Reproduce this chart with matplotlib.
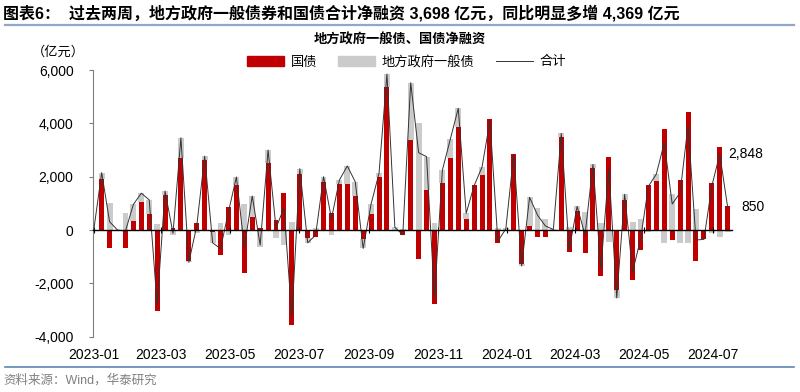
import numpy as np
import pandas as pd
import matplotlib
matplotlib.use('Agg')
import matplotlib.pyplot as plt
import matplotlib.dates as mdates
from matplotlib.lines import Line2D
from matplotlib.ticker import FuncFormatter

plt.rcParams['font.family'] = ['Liberation Sans', 'Noto Sans CJK SC']

# 周度数据（亿元），2023-01-01 起每周一个点
weeks = pd.date_range('2023-01-01', periods=81, freq='7D')

guozhai = [0, 1900, -690, 0, -690, 340, 1060, 600, -3025, 1310,
           60, 2710, -1150, 275, 2620, -60, -950, 875, 1690, -1625,
           500, 60, 2500, 375, 1375, -3560, 2100, -310, -250, 1810,
           625, 1725, 1725, 1275, -340, 600, 1975, 5375, 0, -200,
           3375, -1100, 1500, -2790, 1750, 2690, 3875, 400, 1700, 2060,
           4150, -475, -40, 2840, -1290, 150, -250, -250, 0, 3475,
           -840, 725, -875, 2310, -1725, 2750, -2250, 1125, -1875, -750,
           1700, 1850, 3775, -375, 1875, 4440, -1150, -330, 1780, 3100,
           910]

difang = [0, 250, 1000, 0, 650, 620, 320, 530, 230, 150,
          -180, 750, -60, -120, 150, -420, 250, -190, 300, 975,
          775, -620, 500, -300, -550, 300, 200, -170, 60, 190,
          -200, 150, 675, 535, -350, 375, 150, 475, 100, 20,
          2150, 4000, 1250, 250, 500, 720, 690, 225, -40, 300,
          -50, 60, 80, 0, -60, 1075, 810, 400, 20, 150,
          100, 160, 690, 150, 275, -440, -300, 215, 310, 400,
          -60, 250, -500, 1350, -475, -500, 775, -20, -130, -252,
          -60]

tick_dates = pd.date_range('2023-01-01', '2024-07-01', freq='2MS')
tick_labels = [d.strftime('%Y-%m') for d in tick_dates]

red = np.array(guozhai, dtype=float)
gray = np.array(difang, dtype=float)
total = red + gray
# 堆积：同号叠在国债上，异号从 0 开始
gray_bottom = np.where(np.sign(gray) == np.sign(red), red, 0)

fig = plt.figure(figsize=(8, 3.92), dpi=100)
ax = fig.add_axes([0.11625, 0.1411, 0.799, 0.6803])

ax.bar(weeks, gray, bottom=gray_bottom, width=5.2, color='#CBCBCB', zorder=1, label='地方政府一般债')
ax.bar(weeks, red, width=4.4, color='#C00000', zorder=1.5, label='国债')
ax.plot(weeks, total, color='#333333', lw=0.7, zorder=3, label='合计')

ax.set_ylim(-4000, 6000)
ax.set_yticks(np.arange(-4000, 6001, 2000))
ax.yaxis.set_major_formatter(FuncFormatter(lambda v, p: f'{v:,.0f}'))
ax.set_xlim(pd.Timestamp('2022-12-31 08:00'), pd.Timestamp('2024-07-18'))

for s in ['top', 'right']:
    ax.spines[s].set_visible(False)
ax.spines['left'].set_color('#7f7f7f')
ax.spines['left'].set_linewidth(0.8)
ax.spines['bottom'].set_position(('data', 0))
ax.spines['bottom'].set_color('black')
ax.spines['bottom'].set_linewidth(1.0)
ax.spines['bottom'].set_zorder(4)

ax.set_xticks(tick_dates)
ax.tick_params(axis='x', direction='inout', length=4, width=0.8, labelbottom=False)
ax.tick_params(axis='y', direction='out', length=3, width=0.8, color='#7f7f7f',
               labelsize=10, pad=11)

sec = ax.secondary_xaxis('bottom')
sec.set_xticks(mdates.date2num(tick_dates), labels=tick_labels)
sec.tick_params(length=0, labelsize=10, pad=8)
sec.spines['bottom'].set_visible(False)

# 最后两周的合计标注
for k in [-2, -1]:
    ax.annotate(f'{total[k]:,.0f}', (weeks[k], total[k]),
                xytext=(6 if k == -2 else 10, 0), textcoords='offset points',
                ha='left', va='center', fontsize=10)

handles = [plt.Rectangle((0, 0), 1, 1, color='#C00000'),
           plt.Rectangle((0, 0), 1, 1, color='#CBCBCB'),
           Line2D([], [], color='#333333', lw=0.7)]
fig.legend(handles, ['国债', '地方政府一般债', '合计'], loc='center',
           bbox_to_anchor=(0.508, 1 - 62 / 392), ncol=3, frameon=False,
           fontsize=9.5, handlelength=2.8, handleheight=0.75, handletextpad=0.5,
           columnspacing=1.6)

fig.text(0.004, 1 - 13 / 392,
         '图表6：  过去两周，地方政府一般债券和国债合计净融资 3,698 亿元，同比明显多增 4,369 亿元',
         fontsize=11.5, fontweight='bold', va='center', ha='left')
fig.text(0.5, 1 - 40 / 392, '地方政府一般债、国债净融资', fontsize=9.5,
         fontweight='bold', ha='center', va='center')
fig.text(58 / 800, 1 - 52 / 392, '（亿元）', fontsize=9.5, ha='center', va='center')
fig.text(0.004, 1 - 380 / 392, '资料来源：Wind，华泰研究', fontsize=9,
         color='#808080', ha='left', va='center')

fig.add_artist(Line2D([0.006, 0.992], [1 - 25 / 392] * 2, color='#8FA8C8', lw=1.6))
fig.add_artist(Line2D([0.006, 0.992], [1 - 367 / 392] * 2, color='#5D86B6', lw=1.2))

fig.savefig('out.png', dpi=100)
